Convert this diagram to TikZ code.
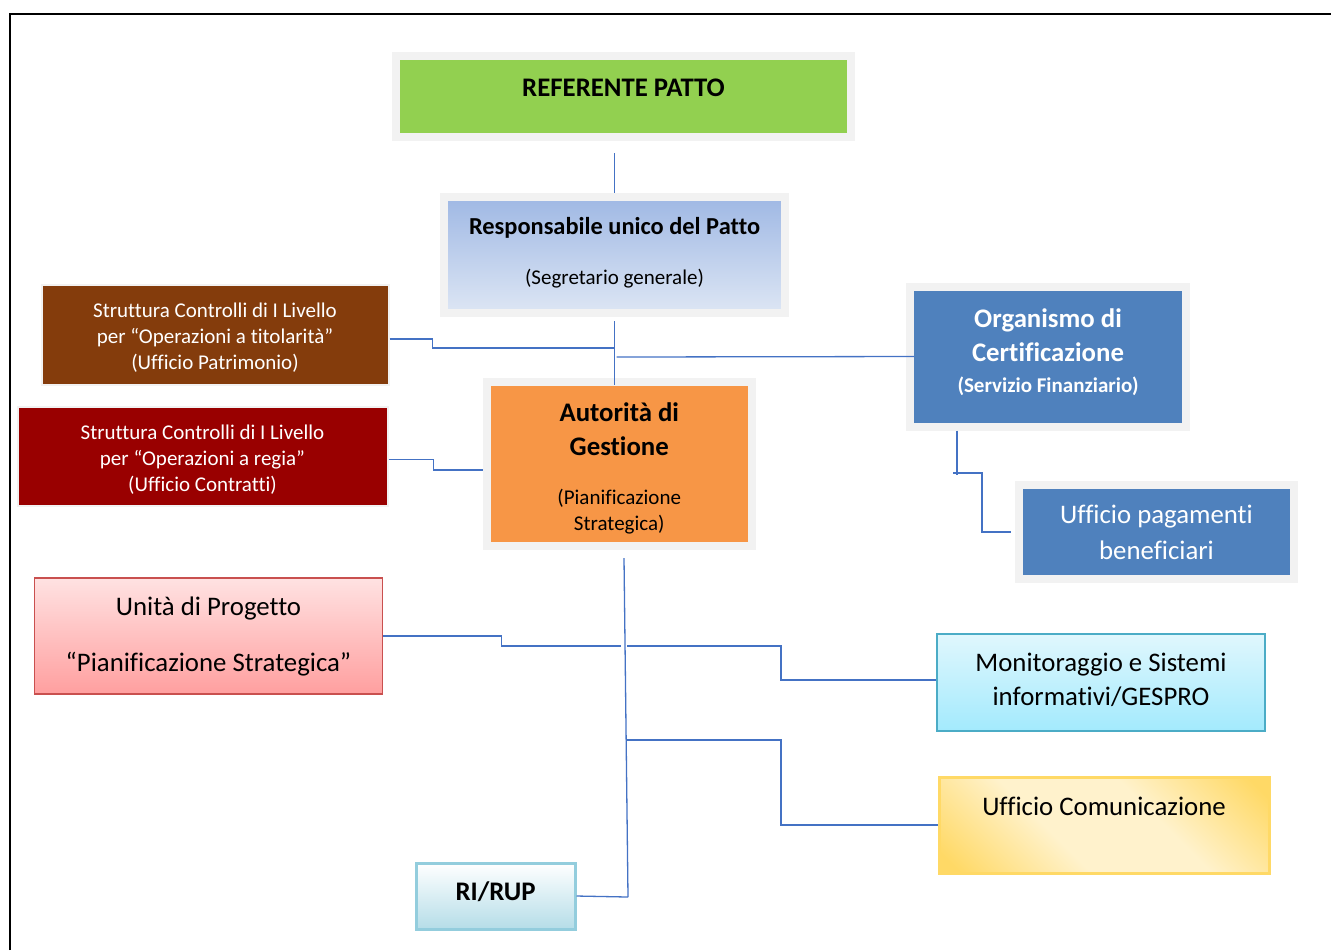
\documentclass[tikz,border=0pt]{standalone}
\usepackage{fontspec}
\setmainfont{Carlito}[Ligatures=NoCommon]
\definecolor{framegray}{HTML}{F2F2F2}
\definecolor{connblue}{HTML}{4472C4}
\definecolor{refgreen}{HTML}{92D050}
\definecolor{respTop}{HTML}{9FB8E4}
\definecolor{respBot}{HTML}{DDE6F4}
\definecolor{ctrlbrown}{HTML}{843C0C}
\definecolor{ctrlred}{HTML}{990000}
\definecolor{adgorange}{HTML}{F79646}
\definecolor{odcblue}{HTML}{4F81BD}
\definecolor{unitaRed}{HTML}{C9504F}
\definecolor{unitaTop}{HTML}{FFE2E2}
\definecolor{unitaBot}{HTML}{FF9F9F}
\definecolor{monitBorder}{HTML}{4BACC6}
\definecolor{monitTop}{HTML}{E0F7FD}
\definecolor{monitBot}{HTML}{A3EAFD}
\definecolor{comunY}{HTML}{FFD966}
\definecolor{comunL}{HTML}{FFF2CC}
\definecolor{rupBorder}{HTML}{93CDDD}
\definecolor{rupBot}{HTML}{B5DDE8}
\pgfdeclarehorizontalshading{comunshade}{100bp}{color(0bp)=(comunY); color(18bp)=(comunY); color(40bp)=(comunL); color(60bp)=(comunL); color(82bp)=(comunY); color(100bp)=(comunY)}
\newcommand{\bigf}{\fontsize{13.4}{17}\selectfont}
\newcommand{\midf}{\fontsize{12.2}{17}\selectfont}
\newcommand{\smallf}{\fontsize{10.5}{13}\selectfont}
\tikzset{font=\bigf}
\tikzset{box/.style={rectangle,align=center,inner sep=2pt}}
\tikzset{framed/.style={box,draw=framegray,line width=4pt}}
\tikzset{conn/.style={draw=connblue,line width=0.65pt}}

\begin{document}
\begin{tikzpicture}[x=0.5pt,y=-0.5pt]
  \useasboundingbox (0,0) rectangle (1331,950);
  \draw[line width=1.2pt] (10,950) -- (10,14) -- (1331,14);
  % boxes
  \node[framed,fill=refgreen,minimum width=227.5pt,minimum height=40.5pt,
    text height=8.6pt,text depth=8.6pt,font=\bigf\bfseries] (ref) at (623.5,96.5)
    {REFERENTE PATTO};
  \node[framed,top color=respTop,bottom color=respBot,minimum width=170.5pt,
    minimum height=58pt,text height=31.4pt,text depth=2.2pt] (resp) at (614.5,255)
    {{\midf\bfseries Responsabile unico del Patto}\\[8pt]{\smallf(Segretario generale)}};
  \node[box,draw=framegray,line width=1pt,fill=ctrlbrown,text=white,font=\smallf,
    minimum width=173.5pt,minimum height=50pt,text height=36.5pt,text depth=2.2pt]
    (ctrlA) at (215,335)
    {Struttura Controlli di I Livello\\per “Operazioni a titolarità”\\(Ufficio Patrimonio)};
  \node[box,draw=framegray,line width=1pt,fill=ctrlred,text=white,font=\smallf,
    minimum width=185pt,minimum height=49.5pt,text height=37pt,text depth=2.2pt]
    (ctrlB) at (202.5,456.5)
    {Struttura Controlli di I Livello\\per “Operazioni a regia”\\(Ufficio Contratti)};
  \node[framed,fill=adgorange,minimum width=132.75pt,minimum height=82pt,
    text height=68.6pt,text depth=2.2pt] (adg) at (619.25,464)
    {\textbf{Autorità di}\\\textbf{Gestione}\\[7.5pt]{\smallf(Pianificazione}\\[-4pt]{\smallf Strategica)}};
  \node[framed,fill=odcblue,text=white,minimum width=138pt,minimum height=70pt,
    text height=38.1pt,text depth=2.2pt] (odc) at (1048,356.5)
    {\textbf{Organismo di}\\\textbf{Certificazione}\\[-1.5pt]{\smallf\bfseries(Servizio Finanziario)}};
  \node[framed,fill=odcblue,text=white,minimum width=137.5pt,minimum height=47pt]
    (upag) at (1156.5,532) {Ufficio pagamenti\\[1pt]beneficiari};
  \node[box,draw=unitaRed,line width=0.75pt,top color=unitaTop,bottom color=unitaBot,
    minimum width=174pt,minimum height=58pt] (unita) at (208.5,636)
    {Unità di Progetto\\[11pt]“Pianificazione Strategica”};
  \node[box,draw=monitBorder,line width=1pt,top color=monitTop,bottom color=monitBot,
    minimum width=164pt,minimum height=48.5pt,text height=24.6pt,text depth=1.7pt]
    (monit) at (1101,682.5) {Monitoraggio e Sistemi\\informativi/GESPRO};
  \node[box,draw=comunY,line width=1.5pt,shading=comunshade,shading angle=45,
    minimum width=165pt,minimum height=48pt,text height=8.6pt,text depth=18pt]
    (comun) at (1104,825) {Ufficio Comunicazione};
  \node[box,draw=rupBorder,line width=1.5pt,top color=white,bottom color=rupBot,
    minimum width=79.5pt,minimum height=33pt,text height=8.6pt,text depth=4.3pt,
    font=\bigf\bfseries] (rup) at (495.5,896) {RI/RUP};
  % connectors
  \coordinate (jctrl) at (615,348);
  \coordinate (jodc) at (616.5,357);
  \coordinate (tTop) at (624,558);
  \coordinate (tEnd) at (628,897);
  \coordinate (jUnita) at (620.5,646);
  \coordinate (jMonit) at (627,646);
  \coordinate (jComun) at (626,740);
  \coordinate (jPag) at (953,473);
  \draw[conn] ([yshift=-6pt]resp.north |- ref.south) -- (resp.north);
  \draw[conn] ([yshift=-2pt]resp.south) -- ([yshift=-3.5pt]resp.south |- adg.north);
  \draw[conn] ([yshift=-2pt]ctrlA.east) -- ++(43,0) |- (jctrl);
  \draw[conn] (jodc) -- ([xshift=4pt]odc.west);
  \draw[conn] ([yshift=-1.5pt]ctrlB.east) -- ++(45,0) |- ([yshift=-3pt]adg.west);
  \draw[conn] (tTop) -- (tEnd);
  \draw[conn] (unita.east) -- ++(118,0) |- (jUnita);
  \draw[conn] (jMonit) -- ++(154,0) |- ([yshift=1.25pt]monit.west);
  \draw[conn] (jComun) -- ++(155,0) |- (comun.west);
  \draw[conn] (rup.east) -- (tEnd);
  \draw[conn] ([xshift=25.5pt]odc.south west) -- ++(0,44);
  \draw[conn] (jPag) -- ++(29,0) |- ([xshift=-2pt]upag.west);
\end{tikzpicture}
\end{document}
